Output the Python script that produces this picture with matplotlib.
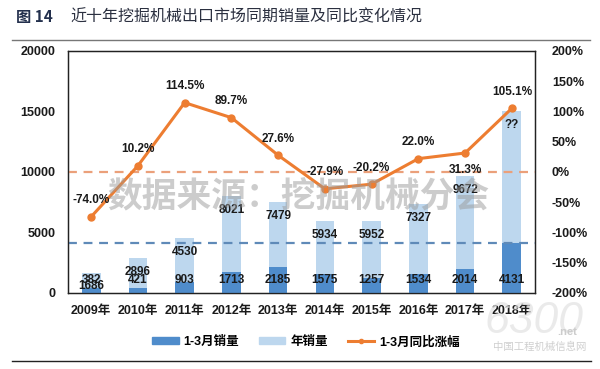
import matplotlib
matplotlib.use('Agg')
import matplotlib.pyplot as plt
from matplotlib.lines import Line2D
from matplotlib.patches import Patch

plt.rcParams['font.family'] = ['Liberation Sans', 'Noto Sans CJK SC', 'DejaVu Sans']

years = ['2009年', '2010年', '2011年', '2012年', '2013年',
         '2014年', '2015年', '2016年', '2017年', '2018年']
q1_sales = [382, 421, 903, 1713, 2185, 1575, 1257, 1534, 2014, 4131]
year_sales = [1686, 2896, 4530, 8021, 7479, 5934, 5952, 7327, 9672, 15000]
year_labels = ['1686', '2896', '4530', '8021', '7479',
               '5934', '5952', '7327', '9672', '??']
q1_growth = [-74.0, 10.2, 114.5, 89.7, 27.6, -27.9, -20.2, 22.0, 31.3, 105.1]

dark_blue = '#4f8ccb'
light_blue = '#bdd7ee'
orange = '#ed7d31'

fig = plt.figure(figsize=(6, 3.69), dpi=100)
ax = fig.add_axes([0.113, 0.206, 0.779, 0.656])
ax2 = ax.twinx()

x = list(range(len(years)))
ax.bar(x, year_sales, width=0.4, color=light_blue, zorder=2)
ax.bar(x, q1_sales, width=0.4, color=dark_blue, zorder=3)
ax.axhline(q1_sales[-1], color='#5f8ab8', lw=1.6, ls=(0, (4, 3)), zorder=4)

for i in x:
    ax.annotate(year_labels[i], (i, year_sales[i]), xytext=(0, -10),
                textcoords='offset points', ha='center', va='center',
                fontsize=8.5, fontweight='bold', color='#1a1a1a', zorder=6)
    ax.annotate(str(q1_sales[i]), (i, 0), xytext=(0, 9.5),
                textcoords='offset points', ha='center', va='center',
                fontsize=8.5, fontweight='bold', color='#1a1a1a', zorder=6)

ax.set_xlim(-0.5, len(years) - 0.5)
ax.set_ylim(0, 20000)
ax.set_yticks([0, 5000, 10000, 15000, 20000])
ax.set_xticks(x)
ax.set_xticklabels(years)

ax2.axhline(0, color='#eba07a', lw=1.6, ls=(0, (4, 3)), zorder=1)
ax2.plot(x, q1_growth, color=orange, lw=2.2, marker='o', markersize=5, zorder=3)
for i in x:
    dy = -12 if i == 8 else 12
    ax2.annotate('%.1f%%' % q1_growth[i], (i, q1_growth[i]), xytext=(0, dy),
                 textcoords='offset points', ha='center', va='center',
                 fontsize=8.5, fontweight='bold', color='#1a1a1a')
ax2.set_ylim(-200, 200)
ax2.set_yticks(range(-200, 201, 50))
ax2.set_yticklabels(['%d%%' % v for v in range(-200, 201, 50)])

for a in (ax, ax2):
    a.tick_params(length=0, labelsize=9, colors='#1a1a1a')
    for lab in a.get_xticklabels() + a.get_yticklabels():
        lab.set_fontweight('bold')
    for s in a.spines.values():
        s.set_color('#222222')
        s.set_linewidth(0.9)
ax.tick_params(axis='y', pad=9)
ax2.tick_params(axis='y', pad=12)
ax.tick_params(axis='x', pad=9)

handles = [Patch(color=dark_blue), Patch(color=light_blue),
           Line2D([], [], color=orange, lw=2.2, marker='o', markersize=3)]
fig.legend(handles, ['1-3月销量', '年销量', '1-3月同比涨幅'], ncol=3,
           loc='center', bbox_to_anchor=(0.51, 0.073), frameon=False,
           handlelength=2.1, handleheight=0.5, handletextpad=0.4,
           columnspacing=1.6, prop={'weight': 'bold', 'size': 9})

# watermark
fig.text(0.497, 0.466, '数据来源：挖掘机械分会', ha='center', va='center',
         fontsize=25, fontweight='bold', color='#9a9a9a', alpha=0.5,
         family=['Noto Sans CJK SC'])
fig.text(0.89, 0.13, '6300', ha='center', va='center', fontsize=32,
         style='italic', color='#e2e2e2', alpha=0.7)
fig.text(0.945, 0.1, '.net', ha='center', va='center', fontsize=8,
         fontweight='bold', color='#cccccc')
fig.text(0.9, 0.06, '中国工程机械信息网', ha='center', va='center', fontsize=7.5,
         color='#cfcfcf', family=['Noto Sans CJK SC'])

# title and rules
fig.text(0.027, 0.955, '图 14', ha='left', va='center', fontsize=11,
         fontweight='bold', color='#23304d', family=['Noto Sans CJK SC'])
fig.text(0.117, 0.955, '近十年挖掘机械出口市场同期销量及同比变化情况', ha='left',
         va='center', fontsize=11.5, color='#2b3040', family=['Noto Sans CJK SC'])
fig.add_artist(Line2D([0.02, 0.983], [0.892, 0.892], color='#777777', lw=1))
fig.add_artist(Line2D([0.02, 0.985], [0.022, 0.022], color='#222222', lw=1))

fig.savefig('out.png', dpi=100)
